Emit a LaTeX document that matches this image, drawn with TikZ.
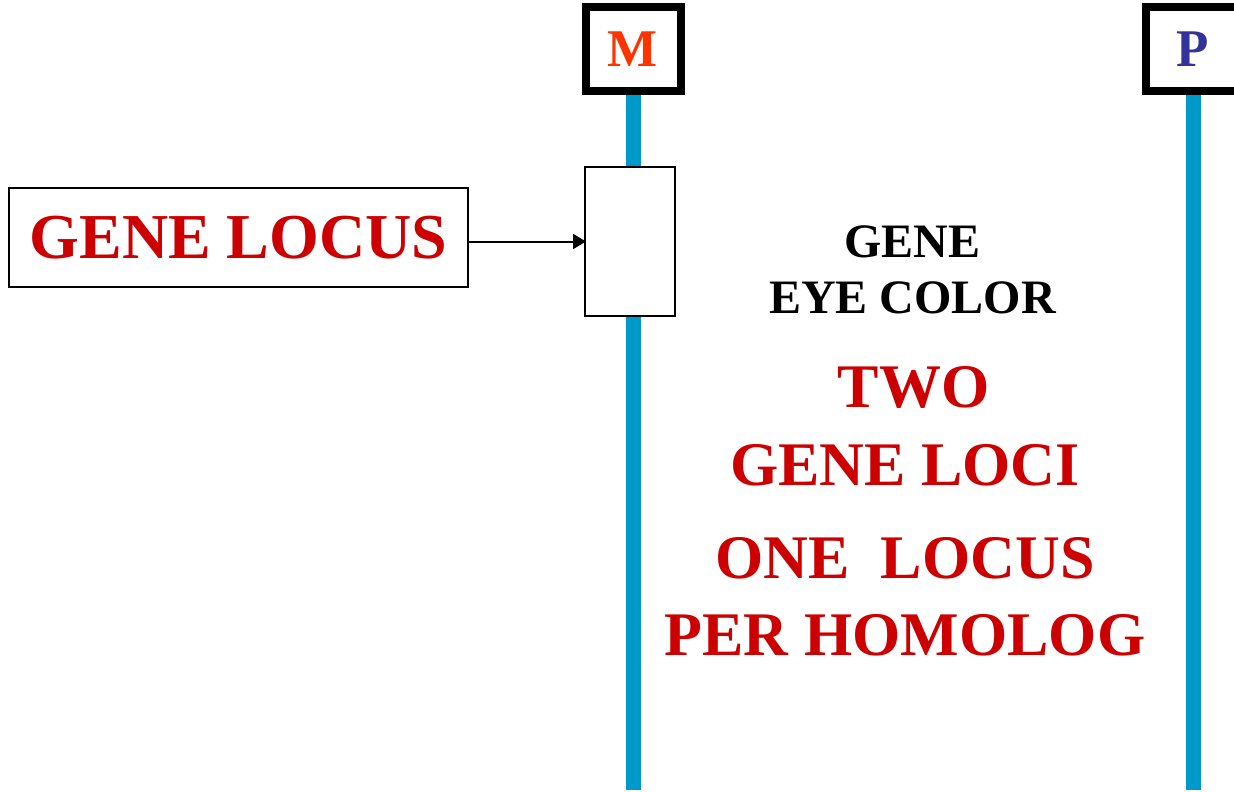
\documentclass[tikz,border=0pt]{standalone}
\usepackage{fontspec}
\setmainfont{Liberation Serif}
\usetikzlibrary{arrows.meta, positioning}
\definecolor{locusred}{RGB}{204,0,0}
\definecolor{momred}{RGB}{255,51,0}
\definecolor{dadblue}{RGB}{51,51,153}
\definecolor{chromblue}{RGB}{0,153,204}

\begin{document}
\begin{tikzpicture}[x=1pt, y=-1pt, every node/.style={font=\bfseries},
    tag/.style={draw, line width=8pt, minimum width=95pt, minimum height=83.5pt, inner sep=0pt, font=\bfseries\fontsize{53}{60}\selectfont},
    chrom/.style={line width=15pt, chromblue},
    box/.style={draw, line width=2pt, fill=white, inner sep=0pt},
    big/.style={anchor=base, inner sep=0pt, text=locusred, font=\bfseries\fontsize{62}{70}\selectfont},
    small/.style={anchor=base, inner sep=0pt, font=\bfseries\fontsize{48}{56}\selectfont}]
    \useasboundingbox (0,0) rectangle (1234,792);

    % Homologs
    \node[tag, text=momred] (mom) at (633,49.25) {M};
    \node[tag, text=dadblue] (dad) at (1193,49.25) {P};
    \coordinate (momend) at (633,790);
    \coordinate (dadend) at (1193,790);
    \draw[chrom] (mom.south) -- (momend);
    \draw[chrom] (dad.south) -- (dadend);

    % Locus
    \node[box, minimum width=90pt, minimum height=149pt] (locus) at (630,241.5) {};
    \node[box, minimum width=459pt, minimum height=99pt, text=locusred, font=\bfseries\fontsize{64}{70}\selectfont] (label) at (238.5,237.5) {GENE LOCUS};
    \draw[-{Triangle[length=13pt,width=15pt]}, line width=2pt] (label.east |- locus.west) -- ([xshift=2pt]locus.west);

    % Notes
    \node[small] (gene) at (912.5,257) {GENE};
    \node[small] (eye) at (912.5,313) {EYE COLOR};
    \node[big] (two) at (913.5,407) {TWO};
    \node[big] (loci) at (905,485) {GENE LOCI};
    \node[big] (one) at (905,578) {ONE~~LOCUS};
    \node[big] (per) at (905,655) {PER HOMOLOG};
\end{tikzpicture}
\end{document}
